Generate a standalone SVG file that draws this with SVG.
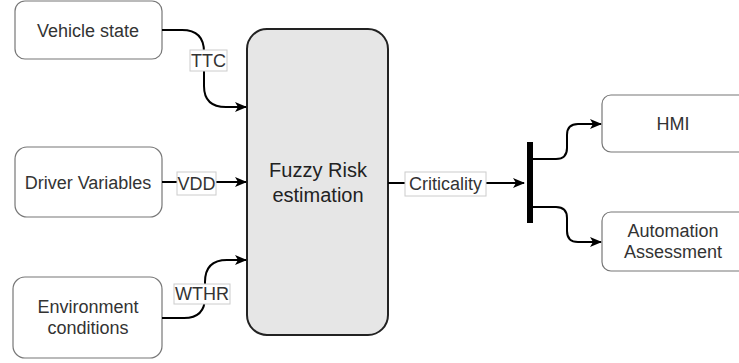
<svg xmlns="http://www.w3.org/2000/svg" width="739" height="363" viewBox="0 0 739 363">
<defs>
<style>
.node{fill:#fff;stroke:#777;stroke-width:1.2}
.txt{font-family:"Liberation Sans",Arial,sans-serif;font-size:18px;fill:#333;text-anchor:middle}
.big{font-size:20px;fill:#222}
.edge{fill:none;stroke:#000;stroke-width:2}
.lbl{fill:#fff;stroke:#ccc;stroke-width:1}
</style>
<marker id="arr" viewBox="0 0 12 10" refX="11" refY="5" markerWidth="12" markerHeight="10" markerUnits="userSpaceOnUse" orient="auto">
<path d="M0,0 L12,5 L0,10 L3,5 Z" fill="#000"/>
</marker>
</defs>
<rect width="739" height="363" fill="#fff"/>
<g id="vehicle"><rect class="node" x="15" y="1" width="147" height="58" rx="10"/><text class="txt" x="88" y="36.5">Vehicle state</text></g>
<g id="driver"><rect class="node" x="15" y="147" width="147" height="70" rx="12"/><text class="txt" x="88" y="189">Driver Variables</text></g>
<g id="environment"><rect class="node" x="13" y="277" width="149" height="81" rx="12"/><text class="txt" x="88" y="313">Environment</text><text class="txt" x="88" y="334">conditions</text></g>
<g id="fuzzy"><rect x="247" y="29" width="141" height="306" rx="20" fill="#e6e6e6" stroke="#222" stroke-width="2"/><text class="txt big" x="318" y="177">Fuzzy Risk</text><text class="txt big" x="318" y="202">estimation</text></g>
<g id="hmi"><rect class="node" x="602" y="95" width="150" height="57" rx="9"/><text class="txt" x="673" y="130">HMI</text></g>
<g id="automation"><rect class="node" x="602" y="212" width="150" height="59" rx="9"/><text class="txt" x="673" y="237">Automation</text><text class="txt" x="673" y="258">Assessment</text></g>
<g id="connectors">
<path class="edge" d="M162,30 H182 Q204,30 204,52 V86 Q204,107 226,107 H246" marker-end="url(#arr)"/>
<path class="edge" d="M162,182 H246" marker-end="url(#arr)"/>
<path class="edge" d="M162,318 H184 Q205,318 205,297 V282 Q205,260 227,260 H246" marker-end="url(#arr)"/>
<path class="edge" d="M388,183 H524" marker-end="url(#arr)"/>
<rect x="527" y="142" width="6" height="81" fill="#000"/>
<path class="edge" d="M533,159 H556 Q567,159 567,148 V135 Q567,124 578,124 H601" marker-end="url(#arr)"/>
<path class="edge" d="M533,207 H556 Q567,207 567,218 V231 Q567,242 578,242 H601" marker-end="url(#arr)"/>
<g id="labels">
<rect class="lbl" x="190" y="50" width="37" height="21"/><text class="txt" x="208.5" y="66.5">TTC</text>
<rect class="lbl" x="177" y="172" width="39" height="23"/><text class="txt" x="196.5" y="189.5">VDD</text>
<rect class="lbl" x="174" y="284" width="56" height="20"/><text class="txt" x="202" y="300">WTHR</text>
<rect class="lbl" x="405" y="172" width="81" height="24"/><text class="txt" x="445.5" y="190">Criticality</text>
</g>
</g>
</svg>
